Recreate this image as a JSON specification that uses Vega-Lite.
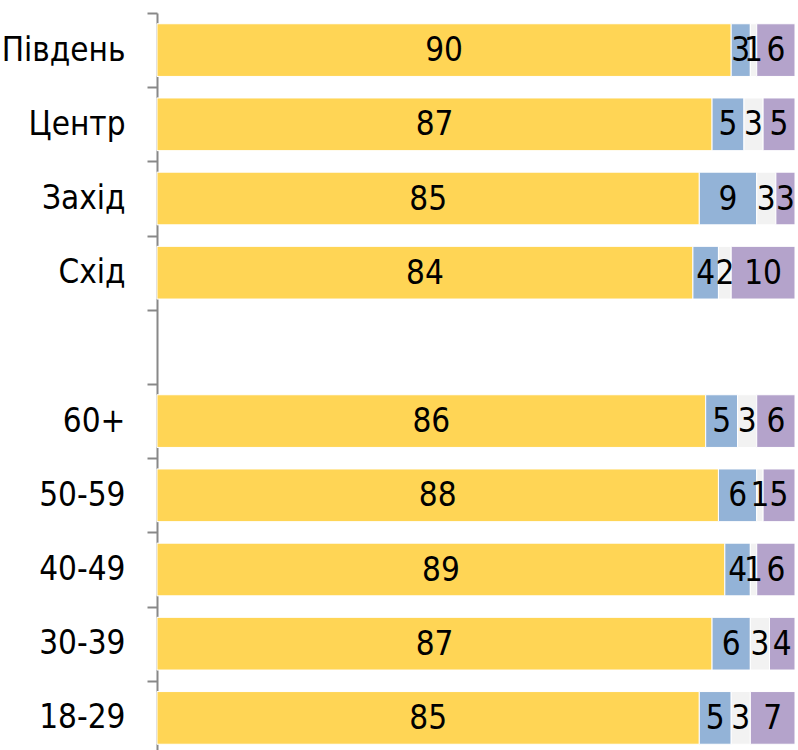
{
  "$schema": "https://vega.github.io/schema/vega-lite/v6.json",
  "width": 638,
  "height": 742,
  "autosize": "none",
  "padding": {"left": 157, "top": 13, "right": 3, "bottom": 0},
  "background": "white",
  "config": {"view": {"stroke": null}, "font": "DejaVu Sans Condensed"},
  "data": {
    "values": [
      {"group": "Південь", "k": 1, "answer": "a", "value": 90},
      {"group": "Південь", "k": 2, "answer": "b", "value": 3},
      {"group": "Південь", "k": 3, "answer": "c", "value": 1},
      {"group": "Південь", "k": 4, "answer": "d", "value": 6},
      {"group": "Центр", "k": 1, "answer": "a", "value": 87},
      {"group": "Центр", "k": 2, "answer": "b", "value": 5},
      {"group": "Центр", "k": 3, "answer": "c", "value": 3},
      {"group": "Центр", "k": 4, "answer": "d", "value": 5},
      {"group": "Захід", "k": 1, "answer": "a", "value": 85},
      {"group": "Захід", "k": 2, "answer": "b", "value": 9},
      {"group": "Захід", "k": 3, "answer": "c", "value": 3},
      {"group": "Захід", "k": 4, "answer": "d", "value": 3},
      {"group": "Схід", "k": 1, "answer": "a", "value": 84},
      {"group": "Схід", "k": 2, "answer": "b", "value": 4},
      {"group": "Схід", "k": 3, "answer": "c", "value": 2},
      {"group": "Схід", "k": 4, "answer": "d", "value": 10},
      {"group": "60+", "k": 1, "answer": "a", "value": 86},
      {"group": "60+", "k": 2, "answer": "b", "value": 5},
      {"group": "60+", "k": 3, "answer": "c", "value": 3},
      {"group": "60+", "k": 4, "answer": "d", "value": 6},
      {"group": "50-59", "k": 1, "answer": "a", "value": 88},
      {"group": "50-59", "k": 2, "answer": "b", "value": 6},
      {"group": "50-59", "k": 3, "answer": "c", "value": 1},
      {"group": "50-59", "k": 4, "answer": "d", "value": 5},
      {"group": "40-49", "k": 1, "answer": "a", "value": 89},
      {"group": "40-49", "k": 2, "answer": "b", "value": 4},
      {"group": "40-49", "k": 3, "answer": "c", "value": 1},
      {"group": "40-49", "k": 4, "answer": "d", "value": 6},
      {"group": "30-39", "k": 1, "answer": "a", "value": 87},
      {"group": "30-39", "k": 2, "answer": "b", "value": 6},
      {"group": "30-39", "k": 3, "answer": "c", "value": 3},
      {"group": "30-39", "k": 4, "answer": "d", "value": 4},
      {"group": "18-29", "k": 1, "answer": "a", "value": 85},
      {"group": "18-29", "k": 2, "answer": "b", "value": 5},
      {"group": "18-29", "k": 3, "answer": "c", "value": 3},
      {"group": "18-29", "k": 4, "answer": "d", "value": 7}
    ]
  },
  "encoding": {
    "y": {
      "field": "group",
      "type": "nominal",
      "scale": {
        "domain": ["Південь", "Центр", "Захід", "Схід", " ", "60+", "50-59", "40-49", "30-39", "18-29"],
        "paddingInner": 0,
        "paddingOuter": 0
      },
      "axis": {
        "title": null,
        "tickBand": "extent",
        "domainColor": "#888888",
        "domainWidth": 2,
        "tickColor": "#888888",
        "tickWidth": 2,
        "tickSize": 10,
        "labelPadding": 22,
        "labelFont": "DejaVu Sans Condensed",
        "labelFontSize": 33,
        "labelColor": "#000000",
        "labelLimit": 200
      }
    },
    "x": {
      "field": "value",
      "type": "quantitative",
      "stack": "zero",
      "scale": {"domain": [0, 100], "nice": false},
      "axis": null
    },
    "order": {"field": "k", "type": "quantitative"}
  },
  "layer": [
    {
      "mark": {"type": "bar", "stroke": "white", "strokeWidth": 1, "height": {"band": 0.71}},
      "encoding": {
        "color": {
          "field": "answer",
          "type": "nominal",
          "scale": {"domain": ["a", "b", "c", "d"], "range": ["#FFD555", "#93B3D7", "#F2F2F2", "#B4A3CB"]},
          "legend": null
        }
      }
    },
    {
      "mark": {"type": "text", "font": "DejaVu Sans Condensed", "fontSize": 33, "color": "#000000", "baseline": "middle", "align": "center", "dy": 1},
      "encoding": {
        "x": {"field": "value", "type": "quantitative", "stack": "zero", "bandPosition": 0.5},
        "text": {"field": "value", "type": "quantitative"}
      }
    }
  ]
}
